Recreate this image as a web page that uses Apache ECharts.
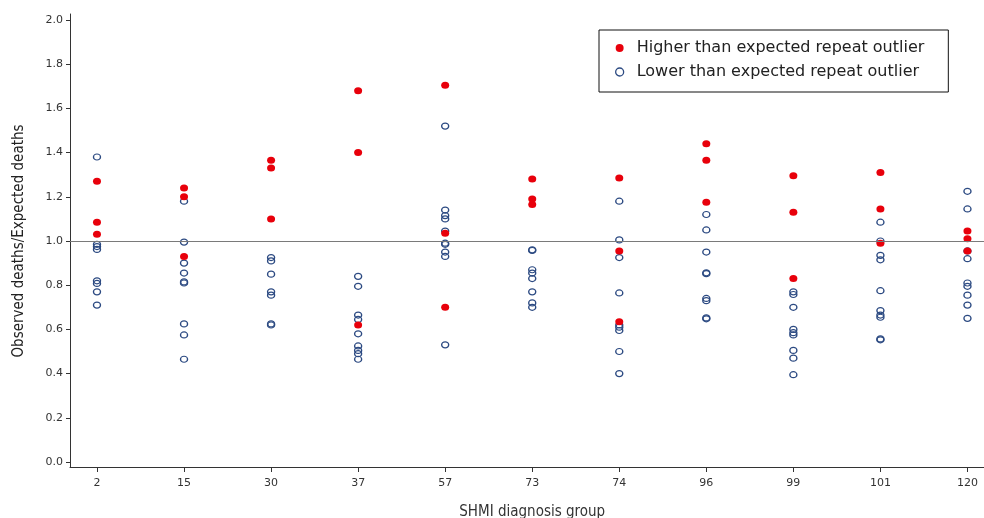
<!DOCTYPE html>
<html>
<head>
<meta charset="utf-8">
<script src="https://cdn.jsdelivr.net/npm/echarts@6/dist/echarts.min.js"></script>
<style>
html,body{margin:0;padding:0;background:#fff;}
#chart{width:984px;height:518px;}
</style>
</head>
<body>
<div id="chart"></div>
<script>
var categories = ['2','15','30','37','57','73','74','96','99','101','120'];
var yTicks = ['0.0','0.2','0.4','0.6','0.8','1.0','1.2','1.4','1.6','1.8','2.0'];

var higherValues = [
  [1.27, 1.085, 1.03],
  [1.24, 1.20, 0.93],
  [1.365, 1.33, 1.10],
  [1.68, 1.40, 0.62],
  [1.705, 1.035, 0.70],
  [1.28, 1.19, 1.165],
  [1.285, 0.955, 0.635],
  [1.44, 1.365, 1.175],
  [1.295, 1.13, 0.83],
  [1.31, 1.145, 0.99],
  [1.045, 1.01, 0.955]
];

var lowerValues = [
  [1.38, 0.985, 0.975, 0.962, 0.82, 0.808, 0.77, 0.71],
  [1.18, 0.995, 0.90, 0.855, 0.815, 0.81, 0.625, 0.575, 0.465],
  [0.925, 0.91, 0.85, 0.77, 0.755, 0.625, 0.62],
  [0.84, 0.795, 0.665, 0.645, 0.58, 0.525, 0.505, 0.49, 0.465],
  [1.52, 1.14, 1.115, 1.10, 1.045, 0.99, 0.985, 0.95, 0.93, 0.53],
  [0.96, 0.957, 0.87, 0.855, 0.83, 0.77, 0.72, 0.70],
  [1.18, 1.005, 0.925, 0.765, 0.62, 0.61, 0.595, 0.50, 0.40],
  [1.12, 1.05, 0.95, 0.856, 0.852, 0.74, 0.73, 0.652, 0.648],
  [0.77, 0.758, 0.70, 0.60, 0.585, 0.575, 0.505, 0.47, 0.395],
  [1.085, 1.0, 0.935, 0.915, 0.775, 0.685, 0.665, 0.655, 0.557, 0.553],
  [1.225, 1.145, 0.955, 0.92, 0.81, 0.795, 0.755, 0.71, 0.65]
];

function toPoints(groups){
  var out = [];
  groups.forEach(function(vals, i){
    vals.forEach(function(v){ out.push([i, v]); });
  });
  return out;
}

var fontFam = 'DejaVu Sans, Verdana, sans-serif';
var nameFam = 'DejaVu Sans Condensed, Liberation Sans Narrow, DejaVu Sans, sans-serif';
var n = categories.length;
var step = 914 / (n - 1 + 0.31 + 0.19);
var firstX = 70 + 0.31 * step;

var chart = echarts.init(document.getElementById('chart'), null, {renderer:'canvas'});
chart.setOption({
  animation: false,
  backgroundColor: '#fff',
  grid: [
    {left: 70, top: 20, width: 914, height: 442, outerBoundsMode: 'none', containLabel: false},
    {left: firstX, top: 25, width: step * (n - 1), height: 442, outerBoundsMode: 'none', containLabel: false},
    {left: 70, top: 14, width: 914, height: 453, outerBoundsMode: 'none', containLabel: false}
  ],
  xAxis: [
    {gridIndex: 0, type: 'value', min: -0.31, max: n - 1 + 0.19,
     axisLine: {show: false, onZero: false}, axisTick: {show: false}, axisLabel: {show: false}, splitLine: {show: false}},
    {gridIndex: 1, type: 'category', data: categories, boundaryGap: false,
     axisLine: {show: false, onZero: false},
     axisTick: {show: true, length: 5, lineStyle: {color: '#333', width: 1}},
     axisLabel: {color: '#333', fontSize: 11, fontFamily: fontFam, margin: 11},
     name: 'SHMI diagnosis group', nameLocation: 'middle', nameGap: 38,
     nameTextStyle: {color: '#333', fontSize: 15, fontFamily: nameFam}},
    {gridIndex: 2, type: 'value', min: 0, max: 1,
     axisLine: {show: true, onZero: false, lineStyle: {color: '#333', width: 1}},
     axisTick: {show: false}, axisLabel: {show: false}, splitLine: {show: false}}
  ],
  yAxis: [
    {gridIndex: 0, type: 'value', min: 0, max: 2, interval: 0.2,
     axisLine: {show: false, onZero: false},
     axisTick: {show: true, length: 4, lineStyle: {color: '#333', width: 1}},
     axisLabel: {color: '#333', fontSize: 11, fontFamily: fontFam, margin: 7,
       formatter: function(v){ return yTicks[Math.round(v / 0.2)]; }},
     splitLine: {show: false},
     name: 'Observed deaths/Expected deaths', nameLocation: 'middle', nameGap: 43,
     nameTextStyle: {color: '#222', fontSize: 15, fontFamily: nameFam}},
    {gridIndex: 1, type: 'value', min: 0, max: 2, show: false},
    {gridIndex: 2, type: 'value', min: 0, max: 1,
     axisLine: {show: true, onZero: false, lineStyle: {color: '#333', width: 1}},
     axisTick: {show: false}, axisLabel: {show: false}, splitLine: {show: false}}
  ],
  legend: {
    left: 599, top: 30, orient: 'vertical',
    padding: [10, 24, 12, 16], itemGap: 8, itemWidth: 10, itemHeight: 8,
    borderColor: '#111', borderWidth: 1,
    textStyle: {color: '#222', fontSize: 16, fontFamily: fontFam, padding: [0, 0, 0, 7]},
    data: [
      {name: 'Higher than expected repeat outlier', icon: 'circle',
       itemStyle: {color: '#e8000b', borderWidth: 0, opacity: 1}},
      {name: 'Lower than expected repeat outlier', icon: 'circle',
       itemStyle: {color: '#fff', borderColor: '#2c4a82', borderWidth: 1.3, opacity: 1}}
    ]
  },
  series: [
    {
      name: 'Lower than expected repeat outlier', type: 'scatter',
      xAxisIndex: 0, yAxisIndex: 0, z: 2,
      symbol: 'circle', symbolSize: [7, 6],
      itemStyle: {color: 'rgba(255,255,255,0)', borderColor: '#2c4a82', borderWidth: 1.3, opacity: 1},
      data: toPoints(lowerValues),
      markLine: {
        silent: true, symbol: 'none', label: {show: false},
        lineStyle: {color: '#7a7a7a', width: 1, type: 'solid'},
        data: [{yAxis: 1}]
      }
    },
    {
      name: 'Higher than expected repeat outlier', type: 'scatter',
      xAxisIndex: 0, yAxisIndex: 0, z: 3,
      symbol: 'circle', symbolSize: [8, 7],
      itemStyle: {color: '#e8000b', opacity: 1},
      data: toPoints(higherValues)
    }
  ]
});
</script>
</body>
</html>
